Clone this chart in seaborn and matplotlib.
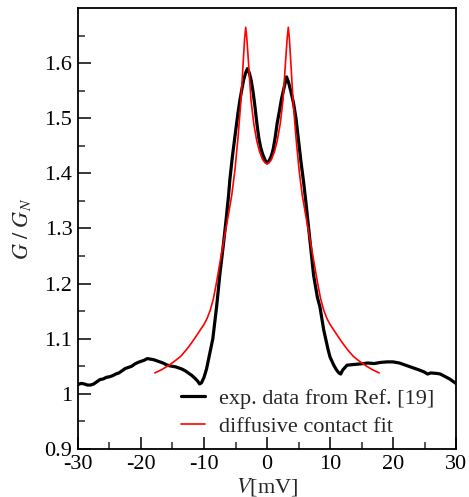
import numpy as np
import pandas as pd
import seaborn as sns
import matplotlib
matplotlib.use("Agg")
import matplotlib.pyplot as plt
from matplotlib.ticker import MultipleLocator, FixedLocator, FuncFormatter

# experimental data (V in mV, G/G_N)
exp_V = [-30.0, -29.5, -29.0, -28.5, -28.0, -27.5, -27.0, -26.5, -26.0, -25.5, -25.0, -24.5,
         -24.0, -23.5, -23.0, -22.5, -22.0, -21.5, -21.0, -20.5, -20.0, -19.5, -19.0, -18.5,
         -18.0, -17.5, -17.0, -16.5, -16.0, -15.5, -15.0, -14.5, -14.0, -13.5, -13.0, -12.5,
         -12.0, -11.5, -11.0, -10.7, -10.4, -10.0, -9.6, -9.0, -8.6, -8.0, -7.5, -6.9, -6.5,
         -6.1, -5.9, -5.5, -5.0, -4.6, -4.3, -4.0, -3.7, -3.4, -3.1, -2.8, -2.5, -2.2, -1.9,
         -1.6, -1.3, -1.0, -0.7, -0.3, 0.0, 0.3, 0.7, 1.0, 1.3, 1.6, 2.0, 2.3, 2.7, 3.1, 3.4,
         3.8, 4.2, 4.6, 5.0, 5.4, 5.8, 6.2, 6.8, 7.4, 8.0, 8.4, 9.0, 9.7, 10.0, 10.6, 11.0,
         11.4, 11.7, 12.0, 12.7, 13.5, 14.5, 15.3, 16.0, 17.0, 18.0, 19.0, 20.0, 21.0, 22.0,
         23.0, 24.0, 24.9, 25.5, 26.0, 27.0, 27.5, 28.0, 28.5, 29.0, 29.6, 30.0]
exp_G = [1.017, 1.019, 1.018, 1.016, 1.016, 1.018, 1.022, 1.026, 1.027, 1.030, 1.031, 1.033,
         1.036, 1.038, 1.042, 1.046, 1.048, 1.050, 1.054, 1.057, 1.059, 1.061, 1.064, 1.063,
         1.062, 1.060, 1.058, 1.056, 1.053, 1.051, 1.050, 1.049, 1.047, 1.045, 1.042, 1.038,
         1.034, 1.029, 1.023, 1.018, 1.020, 1.030, 1.045, 1.078, 1.100, 1.158, 1.215, 1.273,
         1.315, 1.360, 1.388, 1.430, 1.475, 1.510, 1.533, 1.552, 1.570, 1.582, 1.590, 1.582,
         1.568, 1.547, 1.520, 1.490, 1.464, 1.447, 1.435, 1.424, 1.419, 1.422, 1.432, 1.445,
         1.465, 1.490, 1.515, 1.535, 1.555, 1.575, 1.566, 1.548, 1.528, 1.500, 1.460, 1.420,
         1.385, 1.345, 1.280, 1.215, 1.175, 1.158, 1.116, 1.080, 1.067, 1.052, 1.044, 1.038,
         1.036, 1.043, 1.052, 1.053, 1.054, 1.055, 1.056, 1.055, 1.057, 1.058, 1.058, 1.056,
         1.052, 1.048, 1.044, 1.040, 1.036, 1.038, 1.037, 1.036, 1.033, 1.030, 1.027, 1.022,
         1.019]

# diffusive contact fit
fit_V = [-17.8, -16.7, -15.7, -14.7, -13.7, -12.8, -12.0, -11.4, -10.7, -10.0, -9.5, -9.0,
         -8.5, -8.0, -7.5, -6.9, -6.2, -5.6, -5.1, -4.6, -4.13, -3.76, -3.55, -3.38, -3.2,
         -2.96, -2.54, -2.1, -1.64, -1.2, -0.7, -0.3, 0.0, 0.3, 0.7, 1.2, 1.64, 2.1, 2.54,
         2.96, 3.2, 3.38, 3.55, 3.76, 4.13, 4.6, 5.1, 5.6, 6.2, 6.9, 7.5, 8.0, 8.5, 9.0, 9.5,
         10.0, 10.7, 11.4, 12.0, 12.8, 13.7, 14.7, 15.7, 16.7, 17.8]
fit_G = [1.038, 1.044, 1.051, 1.059, 1.068, 1.080, 1.092, 1.102, 1.114, 1.126, 1.137, 1.152,
         1.173, 1.203, 1.236, 1.275, 1.320, 1.360, 1.405, 1.465, 1.533, 1.605, 1.645, 1.665,
         1.645, 1.605, 1.533, 1.490, 1.460, 1.440, 1.425, 1.419, 1.417, 1.419, 1.425, 1.440,
         1.460, 1.490, 1.533, 1.605, 1.645, 1.665, 1.645, 1.605, 1.533, 1.465, 1.405, 1.360,
         1.320, 1.275, 1.236, 1.203, 1.173, 1.152, 1.137, 1.126, 1.114, 1.102, 1.092, 1.080,
         1.068, 1.059, 1.051, 1.044, 1.038]

y_ticks = [0.9, 1.0, 1.1, 1.2, 1.3, 1.4, 1.5, 1.6]
y_minor = [0.95, 1.05, 1.15, 1.25, 1.35, 1.45, 1.55, 1.65]
x_ticks = [-30, -20, -10, 0, 10, 20, 30]

sns.set_style("ticks")
plt.rcParams["font.family"] = ["Liberation Serif", "DejaVu Serif"]
plt.rcParams["mathtext.fontset"] = "stix"
plt.rcParams["axes.unicode_minus"] = False

fig = plt.figure(figsize=(4.69, 4.97), dpi=100)
ax = fig.add_axes([0.1663, 0.0966, 0.8060, 0.8873])

df_exp = pd.DataFrame({"V": exp_V, "G": exp_G})
df_fit = pd.DataFrame({"V": fit_V, "G": fit_G})
sns.lineplot(data=df_exp, x="V", y="G", ax=ax, color="black", lw=2.3, sort=False,
             estimator=None, label="exp. data from Ref. [19]")
sns.lineplot(data=df_fit, x="V", y="G", ax=ax, color="red", lw=1.2, sort=False,
             estimator=None, label="diffusive contact fit")

ax.set_xlim(-30, 30)
ax.set_ylim(0.9, 1.7)
ax.xaxis.set_major_locator(FixedLocator(x_ticks))
ax.xaxis.set_minor_locator(MultipleLocator(5))
ax.yaxis.set_major_locator(FixedLocator(y_ticks))
ax.yaxis.set_minor_locator(FixedLocator(y_minor))
ax.yaxis.set_major_formatter(FuncFormatter(lambda v, p: "%g" % round(v, 2)))
ax.xaxis.set_major_formatter(FuncFormatter(lambda v, p: "%d" % v))
ax.tick_params(which="major", direction="in", length=9, width=1.1, labelsize=16,
               top=False, right=False, colors="black", pad=4)
ax.tick_params(which="minor", direction="in", length=5, width=1.1, top=False, right=False)
for s in ax.spines.values():
    s.set_visible(True)
    s.set_linewidth(1.3)
    s.set_color("black")

ax.set_xlabel(r"$V$[mV]", fontsize=16, labelpad=2)
ax.set_ylabel(r"$G\ /\ G_N$", fontsize=16, labelpad=8)

ax.legend(loc="upper left", bbox_to_anchor=(0.272, 0.137), frameon=False, fontsize=16,
          handlelength=1.1, handletextpad=0.6, labelspacing=0.32, borderpad=0,
          borderaxespad=0)

fig.savefig("out.png", dpi=100)
